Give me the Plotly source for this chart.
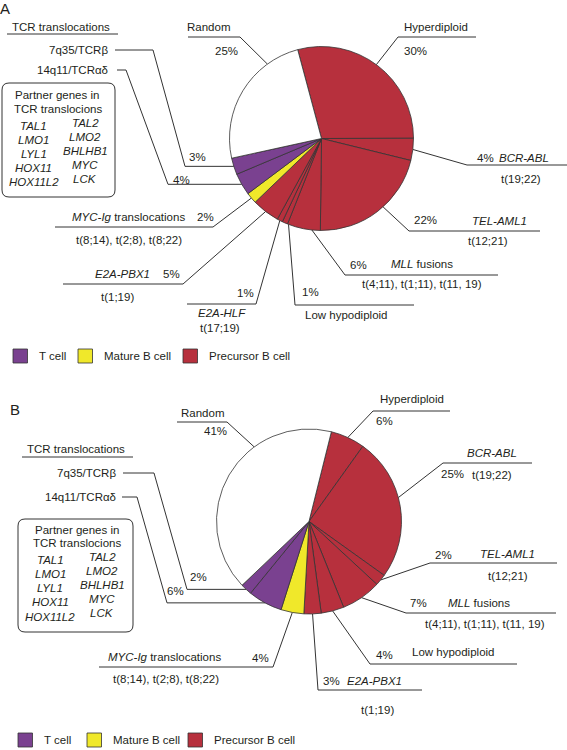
import math
import plotly.graph_objects as go

W, H = 567, 750
LINE = "#333333"
FONT = "Liberation Sans, Arial, sans-serif"
FS = 11.5

# ---- data -------------------------------------------------------------
labels_a = ["Hyperdiploid", "BCR-ABL", "TEL-AML1", "MLL fusions", "Low hypodiploid",
            "E2A-HLF", "E2A-PBX1", "MYC-Ig translocations", "14q11/TCRαδ", "7q35/TCRβ", "Random"]
values_a = [30, 4, 22, 6, 1, 1, 5, 2, 4, 3, 25]
cells_a = ["pre", "pre", "pre", "pre", "pre", "pre", "pre", "mat", "t", "t", "none"]

labels_b = ["Hyperdiploid", "BCR-ABL", "TEL-AML1", "MLL fusions", "Low hypodiploid",
            "E2A-PBX1", "MYC-Ig translocations", "14q11/TCRαδ", "7q35/TCRβ", "Random"]
values_b = [6, 25, 2, 7, 4, 3, 4, 6, 2, 41]
cells_b = ["pre", "pre", "pre", "pre", "pre", "pre", "mat", "t", "t", "none"]

cell_keys = ["t", "mat", "pre"]
cell_names = ["T cell", "Mature B cell", "Precursor B cell"]
cell_colors = {"t": "#7a4190", "mat": "#f0e82a", "pre": "#b7303d", "none": "#ffffff"}

partner_left = ["TAL1", "LMO1", "LYL1", "HOX11", "HOX11L2"]
partner_right = ["TAL2", "LMO2", "BHLHB1", "MYC", "LCK"]

# display names (italic gene names)
display = {
    "BCR-ABL": "<i>BCR-ABL</i>", "TEL-AML1": "<i>TEL-AML1</i>",
    "MLL fusions": "<i>MLL</i> fusions", "E2A-HLF": "<i>E2A-HLF</i>",
    "E2A-PBX1": "<i>E2A-PBX1</i>", "MYC-Ig translocations": "<i>MYC-Ig</i> translocations",
}
translocation = {
    "BCR-ABL": "t(19;22)", "TEL-AML1": "t(12;21)", "MLL fusions": "t(4;11), t(1;11), t(11, 19)",
    "E2A-HLF": "t(17;19)", "E2A-PBX1": "t(1;19)", "MYC-Ig translocations": "t(8;14), t(2;8), t(8;22)",
}

# ---- layout of the two panels (pixel positions) -----------------------
geo_a = dict(cx=321.5, cy=138.5, r=92, rot=-15)
geo_b = dict(cx=309, cy=521.5, r=92.5, rot=14)

# leader lines: points from the label toward the pie, anchor angle (None = slice middle)
lead_a = {
    "Random": ([(188, 37), (240, 37)], 324),
    "Hyperdiploid": ([(476, 37), (398, 37)], 36.6),
    "BCR-ABL": ([(567, 165), (467, 165)], None),
    "TEL-AML1": ([(540, 231), (409, 231)], 138),
    "MLL fusions": ([(498, 275), (345, 275)], 186),
    "Low hypodiploid": ([(414, 305), (295, 305)], 201),
    "E2A-HLF": ([(187, 304), (256, 304)], None),
    "E2A-PBX1": ([(63, 284), (183, 284)], None),
    "MYC-Ig translocations": ([(55, 227), (213, 227)], None),
    "14q11/TCRαδ": ([(117, 70), (126, 70), (168, None)], None),
    "7q35/TCRβ": ([(115, 50), (153, 50), (185, None)], None),
}
lead_b = {
    "Random": ([(177, 422), (227, 422)], 323.7),
    "Hyperdiploid": ([(450, 411), (373, 411)], None),
    "BCR-ABL": ([(532, 463), (443, 463)], 75),
    "TEL-AML1": ([(557, 563), (430, 563)], None),
    "MLL fusions": ([(556, 613), (406, 613)], None),
    "Low hypodiploid": ([(517, 664), (370, 664)], None),
    "E2A-PBX1": ([(422, 690), (318, 690)], None),
    "MYC-Ig translocations": ([(99, 667), (273, 667)], None),
    "14q11/TCRαδ": ([(122, 497), (137, 497), (167, None)], None),
    "7q35/TCRβ": ([(123, 473), (154, 473), (187, None)], None),
}

# percent text centres
pct_a = {"Random": (226, 51), "Hyperdiploid": (415, 51), "BCR-ABL": (485, 158),
         "TEL-AML1": (425, 220), "MLL fusions": (358, 265), "Low hypodiploid": (310, 292),
         "E2A-HLF": (245, 293), "E2A-PBX1": (171, 274), "MYC-Ig translocations": (205, 217),
         "14q11/TCRαδ": (181, 180), "7q35/TCRβ": (197, 157)}
pct_b = {"Random": (215, 431), "Hyperdiploid": (384, 421), "BCR-ABL": (452, 474),
         "TEL-AML1": (443, 555), "MLL fusions": (418, 603), "Low hypodiploid": (384, 655),
         "E2A-PBX1": (331, 681), "MYC-Ig translocations": (260, 658),
         "14q11/TCRαδ": (175, 591), "7q35/TCRβ": (198, 577)}

# name text centres, and translocation text centres
name_a = {"Random": (208, 27), "Hyperdiploid": (436, 27), "BCR-ABL": (524, 158),
          "TEL-AML1": (499, 221), "MLL fusions": (422, 264), "Low hypodiploid": (346, 315),
          "E2A-HLF": (222, 313), "E2A-PBX1": (122, 274), "MYC-Ig translocations": (128, 217)}
trans_a = {"BCR-ABL": (521, 179), "TEL-AML1": (488, 241), "MLL fusions": (422, 284),
           "E2A-HLF": (220, 328), "E2A-PBX1": (117, 297), "MYC-Ig translocations": (129, 240)}
name_b = {"Random": (202, 413), "Hyperdiploid": (412, 399), "BCR-ABL": (492, 453),
          "TEL-AML1": (507, 554), "MLL fusions": (479, 603), "Low hypodiploid": (453, 652),
          "E2A-PBX1": (374, 681), "MYC-Ig translocations": (164, 657)}
trans_b = {"BCR-ABL": (492, 475), "TEL-AML1": (508, 576), "MLL fusions": (485, 624),
           "E2A-PBX1": (377, 710), "MYC-Ig translocations": (166, 679)}

panels = [
    dict(tag="A", tagxy=(5, 8), labels=labels_a, values=values_a, cells=cells_a, geo=geo_a,
         lead=lead_a, pct=pct_a, names=name_a, trans=trans_a,
         tcr=(61, 27, 7, 118, 34), tcr_right=110, tcr_y=(50, 70),
         box=(2, 83, 115, 197), head=((57, 95), (58, 109)),
         cols=((33.5, 125.5, 14.1), (85, 123, 14)),
         legend_y=356, legend_x=(13, 78, 183)),
    dict(tag="B", tagxy=(15, 409), labels=labels_b, values=values_b, cells=cells_b, geo=geo_b,
         lead=lead_b, pct=pct_b, names=name_b, trans=trans_b,
         tcr=(76, 449, 22, 133, 457), tcr_right=118, tcr_y=(473, 497),
         box=(18, 519, 133, 632), head=((77, 530), (77, 543)),
         cols=((50, 559.5, 14.3), (102, 557, 14)),
         legend_y=740, legend_x=(18, 87, 188)),
]


def mid_angles(values, rot):
    tot = float(sum(values))
    out, acc = [], rot
    for v in values:
        a = v / tot * 360
        out.append(acc + a / 2)
        acc += a
    return out


def on_circle(geo, ang):
    t = math.radians(ang)
    return geo["cx"] + geo["r"] * math.sin(t), geo["cy"] - geo["r"] * math.cos(t)


fig = go.Figure()
annotations, shapes = [], []


def txt(x, y, s, anchor="center", size=FS):
    annotations.append(dict(x=x, y=y, xref="x", yref="y", text=s, showarrow=False,
                            xanchor=anchor, yanchor="middle",
                            font=dict(size=size, family=FONT, color="#231f20")))


for p in panels:
    geo = p["geo"]
    fig.add_trace(go.Pie(
        labels=p["labels"], values=p["values"], sort=False, direction="clockwise",
        rotation=geo["rot"],
        domain=dict(x=[(geo["cx"] - geo["r"]) / W, (geo["cx"] + geo["r"]) / W],
                    y=[(H - geo["cy"] - geo["r"]) / H, (H - geo["cy"] + geo["r"]) / H]),
        marker=dict(colors=[cell_colors[c] for c in p["cells"]], line=dict(color=LINE, width=0.8)),
        textinfo="none", hovertemplate="%{label}: %{value}%<extra></extra>",
        showlegend=False, name="Panel " + p["tag"],
    ))

    # leader lines
    mids = dict(zip(p["labels"], mid_angles(p["values"], geo["rot"])))
    xs, ys = [], []
    for lab, (pts, ang) in p["lead"].items():
        ax, ay = on_circle(geo, mids[lab] if ang is None else ang)
        for (x, y) in pts:
            xs.append(x)
            ys.append(ay if y is None else y)
        xs += [ax, None]
        ys += [ay, None]
    tx, ty, x0, x1, uy = p["tcr"]
    xs += [x0, x1, None]
    ys += [uy, uy, None]
    fig.add_trace(go.Scatter(x=xs, y=ys, mode="lines", line=dict(color=LINE, width=1),
                             hoverinfo="skip", showlegend=False))

    # texts
    txt(p["tagxy"][0], p["tagxy"][1], p["tag"], size=15)
    for lab, v in zip(p["labels"], p["values"]):
        x, y = p["pct"][lab]
        txt(x, y, f"{v}%")
        if lab in p["names"]:
            x, y = p["names"][lab]
            txt(x, y, display.get(lab, lab))
        if lab in p["trans"]:
            x, y = p["trans"][lab]
            txt(x, y, translocation[lab])
    txt(tx, ty, "TCR translocations")
    txt(p["tcr_right"], p["tcr_y"][0], "7q35/TCRβ", anchor="right")
    txt(p["tcr_right"], p["tcr_y"][1], "14q11/TCRαδ", anchor="right")

    # partner genes box
    bx0, by0, bx1, by1 = p["box"]
    rr = 7
    shapes.append(dict(
        type="path", xref="x", yref="y", line=dict(color=LINE, width=1),
        path=(f"M {bx0 + rr},{by0} L {bx1 - rr},{by0} Q {bx1},{by0} {bx1},{by0 + rr} "
              f"L {bx1},{by1 - rr} Q {bx1},{by1} {bx1 - rr},{by1} L {bx0 + rr},{by1} "
              f"Q {bx0},{by1} {bx0},{by1 - rr} L {bx0},{by0 + rr} Q {bx0},{by0} {bx0 + rr},{by0} Z")))
    txt(*p["head"][0], "Partner genes in")
    txt(*p["head"][1], "TCR translocions")
    for genes, (cx, y0, dy) in zip((partner_left, partner_right), p["cols"]):
        for i, g in enumerate(genes):
            txt(cx, y0 + i * dy, f"<i>{g}</i>")

    # legend
    ly = p["legend_y"]
    for key, nm, lx in zip(cell_keys, cell_names, p["legend_x"]):
        shapes.append(dict(type="rect", xref="x", yref="y", x0=lx, x1=lx + 14.5,
                           y0=ly - 7, y1=ly + 7, fillcolor=cell_colors[key],
                           line=dict(color=LINE, width=0.8)))
        txt(lx + 24, ly, nm, anchor="left")

fig.update_layout(
    width=W, height=H,
    margin=dict(l=0, r=0, t=0, b=0),
    paper_bgcolor="white", plot_bgcolor="white",
    font=dict(family=FONT, size=FS, color="#231f20"),
    xaxis=dict(range=[0, W], visible=False, fixedrange=True),
    yaxis=dict(range=[H, 0], visible=False, fixedrange=True),
    annotations=annotations, shapes=shapes,
    showlegend=False,
)

# page body has an 8px default margin; drop it so the figure fills the window
fig.write_html("out.html", config={"displayModeBar": False},
               post_script="document.body.style.margin='0';")
